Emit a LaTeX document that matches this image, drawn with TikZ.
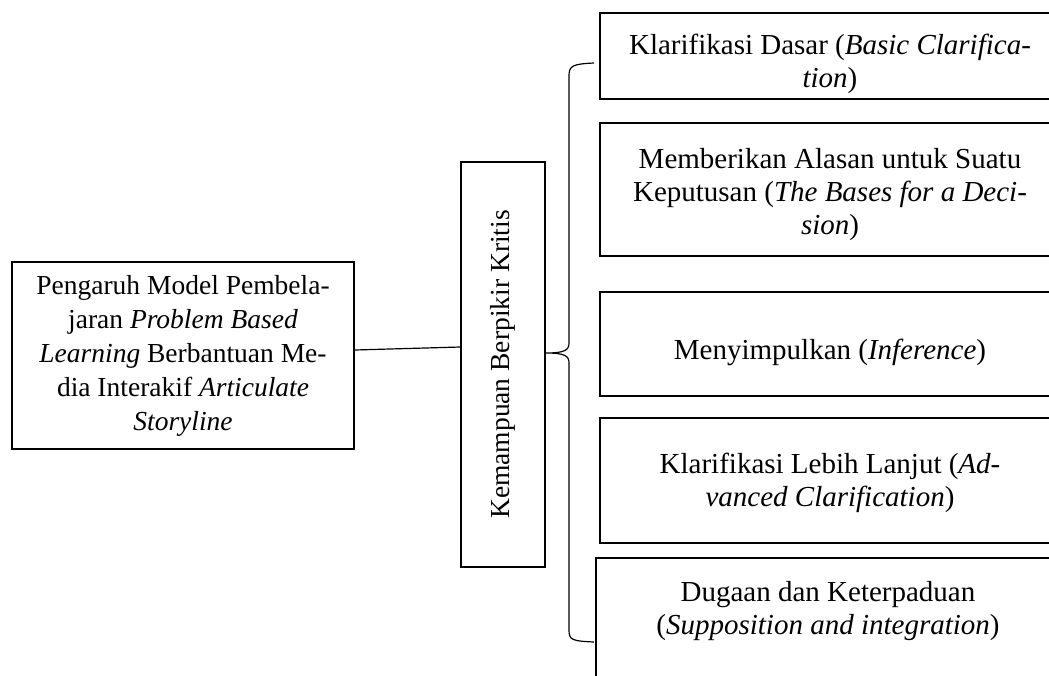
\documentclass[tikz,border=0pt]{standalone}
\usepackage{fontspec}
\setmainfont{Liberation Serif}

\tikzstyle{kotak}=[draw, line width=1.6pt, inner sep=0pt]
\tikzstyle{isi}  =[align=center, font=\fontsize{27.5}{34}\selectfont]
\tikzstyle{isikanan}=[align=center, font=\fontsize{29}{33}\selectfont]
\tikzstyle{garis}=[line width=1.2pt]

\begin{document}
\begin{tikzpicture}[x=1pt, y=-1pt]
    \useasboundingbox (0,0) rectangle (1049,675);
    \clip (0,0) rectangle (1049,675);

    % kotak kiri dan kotak tegak
    \node[kotak, isi, minimum width=342, minimum height=187] (pbl) at (183,355.5)
      {Pengaruh Model Pembela-\\jaran \textit{Problem Based}\\\textit{Learning} Berbantuan Me-\\dia Interakif \textit{Articulate}\\\textit{Storyline}};
    \node[kotak, isi, rotate=90, minimum width=405, minimum height=84] (kbk) at (503,364.5)
      {Kemampuan Berpikir Kritis};

    % kotak kanan
    \node[kotak, minimum width=460, minimum height=86]  (k1) at (830,56) {};
    \node[kotak, minimum width=460, minimum height=133] (k2) at (830,189.5) {};
    \node[kotak, minimum width=460, minimum height=104] (k3) at (830,344) {};
    \node[kotak, minimum width=460, minimum height=125] (k4) at (830,480.5) {};
    \node[kotak, minimum width=464, minimum height=140] (k5) at (828,628) {};

    \node[isikanan] (t1) at ([yshift=-7.5pt]k1.center) {Klarifikasi Dasar (\textit{Basic Clarifica-}\\\textit{tion})};
    \node[isikanan] (t2) at ([yshift=-5.5pt]k2.center) {Memberikan Alasan untuk Suatu\\Keputusan (\textit{The Bases for a Deci-}\\\textit{sion})};
    \node[isikanan] (t3) at ([yshift=-8pt]k3.center) {Menyimpulkan (\textit{Inference})};
    \node[isikanan] (t4) at ([yshift=-2pt]k4.center) {Klarifikasi Lebih Lanjut (\textit{Ad-}\\\textit{vanced Clarification})};
    \node[isikanan] (t5) at ([yshift=17pt]k5.center) {Dugaan dan Keterpaduan\\(\textit{Supposition and integration})};

    % garis penghubung
    \draw[garis] ([yshift=5.5pt]pbl.east) -- ([yshift=17.5pt]kbk.north);

    % kurung kurawal
    \coordinate (bt) at (594,63);
    \coordinate (bm) at ([yshift=11.5pt]kbk.south);
    \coordinate (bb) at (594,642);
    \draw[garis] (bt) .. controls (572,64) and (569,66) .. (569,76)
      -- (569,343) .. controls (569,350) and (565,353) .. (bm)
      .. controls (565,353) and (569,356) .. (569,363)
      -- (569,630) .. controls (569,640) and (572,641) .. (bb);
\end{tikzpicture}
\end{document}
